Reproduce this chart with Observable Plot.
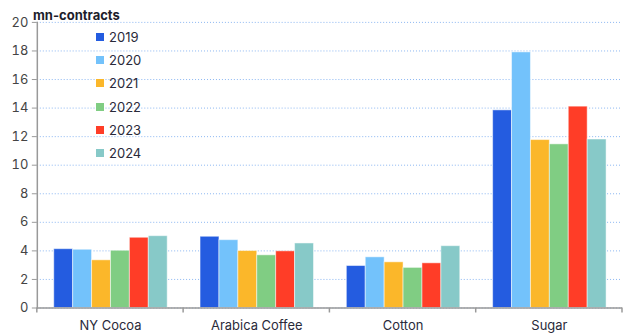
<!DOCTYPE html>
<html><head><meta charset="utf-8">
<script src="https://cdn.jsdelivr.net/npm/d3@7"></script>
<script src="https://cdn.jsdelivr.net/npm/@observablehq/plot@0.6"></script>
<style>
body{margin:0;background:#fff;font-family:Inter,"Liberation Sans",sans-serif;}
#wrap{position:relative;width:623px;height:335px;overflow:hidden;}
#title{position:absolute;left:33px;top:7px;font-size:13px;font-weight:700;color:#1d1d2b;}
#legend{position:absolute;left:96px;top:25px;font-size:13px;color:#2a2a3a;}
#legend div{height:23.3px;display:flex;align-items:center;}
#legend span.sw{display:inline-block;width:8px;height:8px;margin-right:5px;}
</style></head>
<body><div id="wrap"><div id="title">mn-contracts</div><div id="legend"></div></div>
<script>
const categories = ["NY Cocoa", "Arabica Coffee", "Cotton", "Sugar"];
const years = ["2019", "2020", "2021", "2022", "2023", "2024"];
const colors = ["#245ce0", "#73c2fb", "#fbb72a", "#80cd83", "#ff3d27", "#87c9c8"];
const v2019 = [4.12, 4.99, 2.94, 13.84];
const v2020 = [4.08, 4.75, 3.55, 17.9];
const v2021 = [3.34, 3.99, 3.20, 11.76];
const v2022 = [4.01, 3.69, 2.81, 11.46];
const v2023 = [4.92, 3.97, 3.13, 14.1];
const v2024 = [5.03, 4.52, 4.33, 11.8];
const yTicks = [0, 2, 4, 6, 8, 10, 12, 14, 16, 18, 20];

const series = [v2019, v2020, v2021, v2022, v2023, v2024];
const data = [];
categories.forEach((c, i) => years.forEach((y, j) => data.push({category: c, year: y, value: series[j][i]})));

const plot = Plot.plot({
  width: 626, height: 335,
  marginLeft: 36, marginRight: 0, marginTop: 22, marginBottom: 26,
  style: {fontFamily: "Inter, 'Liberation Sans', sans-serif", fontSize: "13px", color: "#333"},
  fx: {domain: categories, padding: 0, label: null},
  x: {domain: years, paddingInner: 0, paddingOuter: 0.73, axis: null},
  y: {domain: [0, 20], label: null},
  color: {domain: years, range: colors},
  marks: [
    Plot.gridY(yTicks, {stroke: "#7eaef0", strokeOpacity: 0.9, strokeDasharray: "1,2"}),
    Plot.barY(data, {fx: "category", x: "year", y: "value", fill: "year", stroke: "#fff", strokeOpacity: 0.5, strokeWidth: 1}),
    Plot.ruleY([0], {stroke: "#999", strokeWidth: 1.5}),
    Plot.frame({anchor: "left", facetAnchor: "left", stroke: "#999", strokeWidth: 1.5}),
    Plot.axisY(yTicks, {anchor: "left", tickSize: 5, tickPadding: 4, stroke: "#999", fill: "#444", fontSize: 13, facetAnchor: "left", label: null}),
    Plot.axisFx({anchor: "bottom", tickSize: 0, tickPadding: 13, fill: "#2a2a3a", fontSize: 13, label: null})
  ]
});
document.getElementById("wrap").prepend(plot);

// boundary ticks on the category axis, from the fx scale
const fx = plot.scale("fx");
const svg = d3.select(plot);
const y0 = 335 - 26;
const edges = categories.map(c => fx.apply(c));
edges.push(fx.apply(categories[categories.length - 1]) + fx.bandwidth);
svg.append("g").selectAll("line").data(edges).join("line")
  .attr("x1", d => d).attr("x2", d => d).attr("y1", y0).attr("y2", y0 + 5)
  .attr("stroke", "#999").attr("stroke-width", 1.5);

const lg = d3.select("#legend");
years.forEach((y, i) => {
  const row = lg.append("div");
  row.append("span").attr("class", "sw").style("background", colors[i]);
  row.append("span").text(y);
});
</script></body></html>
